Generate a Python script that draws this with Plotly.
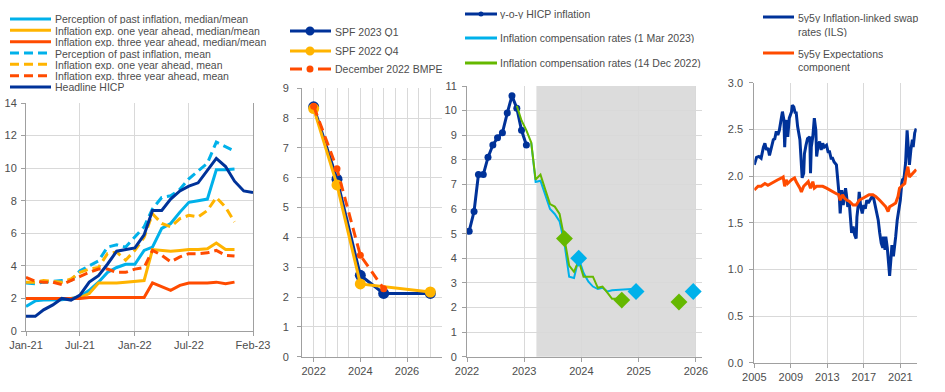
import plotly.graph_objects as go

# ---------------- DATA ----------------
# Panel 1: consumer expectations survey (monthly) and headline HICP
ces_months = ['2021-01', '2021-02', '2021-03', '2021-04', '2021-05', '2021-06',
              '2021-07', '2021-08', '2021-09', '2021-10', '2021-11', '2021-12',
              '2022-01', '2022-02', '2022-03', '2022-04', '2022-05', '2022-06',
              '2022-07', '2022-08', '2022-09', '2022-10', '2022-11', '2022-12']
hicp_months = ces_months + ['2023-01', '2023-02']
past_median = [1.5, 1.85, 1.9, 1.9, 1.92, 2.0, 2.1, 2.5, 3.0, 3.6, 3.9, 4.1,
               4.1, 4.95, 5.15, 6.3, 6.6, 7.3, 7.9, 8.0, 8.1, 9.9, 9.9, 9.95]
one_year_median = [2.0, 2.0, 2.0, 2.0, 2.0, 2.0, 2.05, 2.3, 2.95, 2.95, 2.95, 3.0,
                   3.05, 3.1, 5.0, 4.95, 4.9, 4.95, 5.0, 5.0, 5.05, 5.4, 5.0, 5.0]
three_year_median = [2.0, 2.0, 2.0, 2.0, 2.0, 2.0, 2.0, 2.05, 2.05, 2.05, 2.05, 2.05,
                     2.05, 2.05, 2.95, 2.7, 2.5, 2.8, 2.95, 2.95, 2.95, 3.0, 2.9, 3.0]
past_mean = [2.95, 2.9, 3.0, 3.05, 3.1, 3.1, 3.7, 4.0, 4.3, 5.15, 5.3, 5.15,
             5.75, 6.4, 7.5, 8.2, 8.3, 8.7, 9.35, 9.85, 10.3, 11.6, 11.3, 11.05]
one_year_mean = [3.0, 3.0, 3.1, 3.05, 3.0, 3.2, 3.6, 3.8, 3.9, 4.75, 4.85, 4.35,
                 4.95, 5.75, 7.2, 6.6, 6.4, 6.9, 7.1, 7.0, 7.4, 8.2, 7.6, 6.7]
three_year_mean = [3.3, 3.05, 3.0, 3.0, 2.85, 3.1, 3.3, 3.6, 3.8, 3.8, 3.6, 3.6,
                   3.8, 3.9, 4.95, 4.65, 4.25, 4.55, 4.75, 4.75, 4.8, 4.95, 4.65, 4.6]
hicp = [0.9, 0.9, 1.3, 1.6, 2.0, 1.9, 2.2, 3.0, 3.4, 4.1, 4.9, 5.0,
        5.1, 5.9, 7.4, 7.4, 8.1, 8.6, 8.9, 9.1, 9.9, 10.6, 10.1, 9.2, 8.6, 8.5]
p1_ticks = ['2021-01-01', '2021-07-01', '2022-01-01', '2022-07-01', '2023-02-01']
p1_ticktext = ['Jan-21', 'Jul-21', 'Jan-22', 'Jul-22', 'Feb-23']

# Panel 2: SPF and BMPE (annual)
spf23_years = [2022, 2023, 2024, 2025, 2027]
spf23_values = [8.38, 5.95, 2.73, 2.12, 2.12]
spf22_years = [2022, 2023, 2024, 2027]
spf22_values = [8.32, 5.76, 2.44, 2.17]
bmpe_years = [2022, 2023, 2024, 2025]
bmpe_values = [8.4, 6.3, 3.4, 2.28]

# Panel 3: HICP and inflation compensation (monthly)
hicp3_months = ['2022-01', '2022-02', '2022-03', '2022-04', '2022-05', '2022-06', '2022-07',
                '2022-08', '2022-09', '2022-10', '2022-11', '2022-12', '2023-01']
hicp3_values = hicp[12:25]
dec_months = ['2022-11', '2022-12', '2023-01', '2023-02', '2023-03', '2023-04', '2023-05',
              '2023-06', '2023-07', '2023-08', '2023-09', '2023-10', '2023-11', '2023-12',
              '2024-01', '2024-02', '2024-03', '2024-04', '2024-05', '2024-06', '2024-07',
              '2024-08', '2024-09']
dec_values = [10.2, 9.6, 9.2, 8.7, 7.2, 7.4, 6.8, 6.2, 6.1, 5.8, 4.8, 3.7,
              3.45, 3.9, 3.25, 3.25, 3.25, 2.8, 2.85, 2.6, 2.35, 2.35, 2.3]
mar_months = ['2023-02', '2023-03', '2023-04', '2023-05', '2023-06', '2023-07', '2023-08',
              '2023-09', '2023-10', '2023-11', '2023-12', '2024-01', '2024-02', '2024-03',
              '2024-04', '2024-05', '2024-06', '2024-07', '2024-08', '2024-09', '2024-10',
              '2024-11', '2024-12', '2025-01']
mar_values = [8.7, 7.1, 7.15, 6.6, 6.0, 5.8, 5.5, 4.6, 3.25, 3.2, 4.0, 3.4,
              3.05, 2.85, 2.75, 2.8, 2.65, 2.7, 2.72, 2.72, 2.75, 2.75, 2.65, 2.6]
dec_fix_months = ['2023-09', '2024-09', '2025-09']
dec_fix_values = [4.8, 2.3, 2.22]
mar_fix_months = ['2023-12', '2024-12', '2025-12']
mar_fix_values = [4.0, 2.65, 2.65]
shade_start, shade_end = '2023-03-20', '2025-12-28'

# Panel 4: 5y5y ILS and expectations component
ils_months = ['2005-01', '2005-04', '2005-07', '2005-10',
              '2006-01', '2006-03', '2006-05', '2006-07', '2006-09', '2006-11',
              '2007-02', '2007-04', '2007-06', '2007-08', '2007-10',
              '2008-01', '2008-02', '2008-04', '2008-05', '2008-06', '2008-08', '2008-09', '2008-11',
              '2009-02', '2009-03', '2009-05', '2009-07', '2009-08', '2009-10',
              '2010-01', '2010-03', '2010-04', '2010-06', '2010-07', '2010-09', '2010-11',
              '2011-02', '2011-03', '2011-04', '2011-06', '2011-08', '2011-10', '2011-11',
              '2012-01', '2012-03', '2012-05', '2012-07', '2012-09', '2012-12',
              '2013-02', '2013-04', '2013-06', '2013-08', '2013-10',
              '2014-01', '2014-03', '2014-05', '2014-06', '2014-08', '2014-10',
              '2015-01', '2015-02', '2015-04', '2015-06', '2015-08', '2015-09', '2015-11',
              '2016-01', '2016-03', '2016-04', '2016-06', '2016-07', '2016-09', '2016-11',
              '2017-01', '2017-03', '2017-05', '2017-07', '2017-09', '2017-12',
              '2018-02', '2018-04', '2018-06', '2018-08', '2018-10', '2018-12',
              '2019-02', '2019-03', '2019-05', '2019-06', '2019-08', '2019-10', '2019-11',
              '2020-01', '2020-02', '2020-04', '2020-06', '2020-07', '2020-09', '2020-11',
              '2021-01', '2021-03', '2021-04', '2021-06', '2021-08', '2021-10', '2021-12',
              '2022-01', '2022-03', '2022-05', '2022-06', '2022-08', '2022-10']
ils_values = [2.12, 2.20, 2.21, 2.19,
              2.31, 2.35, 2.28, 2.30, 2.22, 2.28,
              2.39, 2.40, 2.48, 2.44, 2.49,
              2.64, 2.69, 2.60, 2.31, 2.49, 2.60, 2.42, 2.62,
              2.69, 2.76, 2.74, 2.67, 2.69, 2.53,
              2.39, 2.14, 1.98, 2.03, 2.24, 2.33, 2.40,
              2.42, 2.03, 2.31, 2.42, 2.62, 2.49, 2.21,
              2.33, 2.37, 2.28, 2.35, 2.31, 2.33,
              2.26, 2.26, 2.19, 2.19, 2.15,
              2.12, 1.96, 1.76, 1.60, 1.85, 1.69,
              1.87, 1.81, 1.67, 1.71, 1.53, 1.39, 1.46,
              1.37, 1.33, 1.56, 1.71, 1.83, 1.67, 1.60,
              1.69, 1.65, 1.74, 1.71, 1.74, 1.78,
              1.76, 1.69, 1.62, 1.53, 1.39, 1.28,
              1.23, 1.35, 1.21, 1.35, 1.23, 1.03, 0.93,
              1.14, 1.26, 1.14, 1.26, 1.35, 1.53, 1.64,
              1.74, 1.92, 1.96, 1.98, 2.14, 2.49, 2.14,
              2.12, 2.28, 2.39, 2.31, 2.46, 2.51]
exp_months = ['2005-01', '2005-06', '2005-10', '2006-03', '2006-07', '2006-11', '2007-04',
              '2007-08', '2008-01', '2008-03', '2008-05', '2008-07', '2008-09', '2009-02',
              '2009-06', '2009-08', '2010-01', '2010-03', '2010-06', '2010-09', '2010-12',
              '2011-03', '2011-06', '2011-08', '2011-11', '2012-03', '2012-07', '2012-12',
              '2013-04', '2013-08', '2014-01', '2014-04', '2014-06', '2014-09', '2014-12',
              '2015-03', '2015-06', '2015-11', '2016-03', '2016-07', '2016-12', '2017-04',
              '2017-08', '2018-01', '2018-05', '2018-10', '2019-02', '2019-06', '2019-09',
              '2019-11', '2020-03', '2020-07', '2020-10', '2020-12', '2021-04', '2021-07',
              '2021-09', '2021-11', '2022-01', '2022-03', '2022-06', '2022-08', '2022-10']
exp_values = [1.85, 1.89, 1.89, 1.92, 1.90, 1.92, 1.94,
              1.96, 1.98, 1.99, 1.89, 1.96, 1.92, 1.96,
              1.98, 1.94, 1.87, 1.83, 1.89, 1.92, 1.94,
              1.87, 1.94, 1.87, 1.89, 1.89, 1.89, 1.87,
              1.85, 1.83, 1.81, 1.80, 1.74, 1.80, 1.76,
              1.74, 1.73, 1.69, 1.69, 1.74, 1.76, 1.78,
              1.80, 1.80, 1.78, 1.74, 1.71, 1.67, 1.62,
              1.67, 1.69, 1.71, 1.78, 1.87, 1.90, 1.92,
              2.03, 2.10, 1.99, 2.01, 2.03, 2.05, 2.07]
assert len(ils_months) == len(ils_values)
assert len(exp_months) == len(exp_values)
assert len(dec_months) == len(dec_values) and len(mar_months) == len(mar_values)

# ---------------- STYLE ----------------
W, H = 945, 392
DB, LB, YL, OR, GR = '#003299', '#00B1EA', '#FFB400', '#FF4B00', '#65B800'
GRID, AX, TXT = '#D9D9D9', '#A0A0A0', '#4D4D4D'
FONT = 'Arial, Liberation Sans, sans-serif'
TICKF = dict(family=FONT, size=11, color=TXT)
LEGF = dict(family=FONT, size=10.5, color=TXT)
DASH1 = '9px,5px'


def fx(p):
    return p / W


def fy(p):
    return 1 - p / H


def mid(months):
    return [m + '-15' for m in months]


def first(months):
    return [m + '-01' for m in months]


fig = go.Figure()

# ---- Panel 1 ----
p1 = [
    (past_median, LB, 'solid'), (one_year_median, YL, 'solid'), (three_year_median, OR, 'solid'),
    (past_mean, LB, DASH1), (one_year_mean, YL, DASH1), (three_year_mean, OR, DASH1),
]
for vals, col, dash in p1:
    fig.add_trace(go.Scatter(x=first(ces_months), y=vals, mode='lines',
                             line=dict(color=col, width=3, dash=dash),
                             xaxis='x', yaxis='y', showlegend=False))
fig.add_trace(go.Scatter(x=first(hicp_months), y=hicp, mode='lines',
                         line=dict(color=DB, width=3), xaxis='x', yaxis='y', showlegend=False))

# ---- Panel 2 ----
fig.add_trace(go.Scatter(x=spf23_years, y=spf23_values, mode='lines+markers',
                         line=dict(color=DB, width=3), marker=dict(size=11, color=DB),
                         xaxis='x2', yaxis='y2', showlegend=False))
fig.add_trace(go.Scatter(x=spf22_years, y=spf22_values, mode='lines+markers',
                         line=dict(color=YL, width=3), marker=dict(size=11, color=YL),
                         xaxis='x2', yaxis='y2', showlegend=False))
fig.add_trace(go.Scatter(x=bmpe_years, y=bmpe_values, mode='lines+markers',
                         line=dict(color=OR, width=3, dash='10px,6px'), marker=dict(size=7, color=OR),
                         xaxis='x2', yaxis='y2', showlegend=False))

# ---- Panel 3 ----
fig.add_shape(type='rect', xref='x3', yref='y3 domain', x0=shade_start, x1=shade_end,
              y0=0, y1=1, fillcolor='#DCDCDC', line_width=0, layer='below')
fig.add_trace(go.Scatter(x=mid(hicp3_months), y=hicp3_values, mode='lines+markers',
                         line=dict(color=DB, width=3), marker=dict(size=7, color=DB),
                         xaxis='x3', yaxis='y3', showlegend=False))
fig.add_trace(go.Scatter(x=mid(mar_months), y=mar_values, mode='lines',
                         line=dict(color=LB, width=2), xaxis='x3', yaxis='y3', showlegend=False))
fig.add_trace(go.Scatter(x=mid(dec_months), y=dec_values, mode='lines',
                         line=dict(color=GR, width=2), xaxis='x3', yaxis='y3', showlegend=False))
fig.add_trace(go.Scatter(x=mid(dec_fix_months), y=dec_fix_values, mode='markers',
                         marker=dict(symbol='diamond', size=13, color=GR),
                         xaxis='x3', yaxis='y3', showlegend=False))
fig.add_trace(go.Scatter(x=mid(mar_fix_months), y=mar_fix_values, mode='markers',
                         marker=dict(symbol='diamond', size=13, color=LB),
                         xaxis='x3', yaxis='y3', showlegend=False))

# ---- Panel 4 ----
fig.add_trace(go.Scatter(x=first(ils_months), y=ils_values, mode='lines',
                         line=dict(color=DB, width=3), xaxis='x4', yaxis='y5', showlegend=False))
fig.add_trace(go.Scatter(x=first(exp_months), y=exp_values, mode='lines',
                         line=dict(color=OR, width=3), xaxis='x4', yaxis='y5', showlegend=False))

# ---------------- AXES ----------------
base = dict(showline=True, linecolor=AX, linewidth=1, ticks='outside', ticklen=4,
            tickcolor=AX, tickfont=TICKF, gridcolor=GRID, gridwidth=1, zeroline=False,
            showgrid=True, fixedrange=True, automargin=False)

fig.update_layout(
    width=W, height=H, autosize=False,
    margin=dict(l=0, r=0, t=0, b=0, pad=0, autoexpand=False),
    paper_bgcolor='white', plot_bgcolor='white', showlegend=False,
    xaxis=dict(base, type='date', domain=[fx(26), fx(253)], anchor='y',
               range=['2021-01-01', '2023-02-01'], tickmode='array',
               tickvals=p1_ticks, ticktext=p1_ticktext),
    yaxis=dict(base, domain=[fy(331), fy(103)], anchor='x', range=[0, 14], dtick=2,
               ticklabelstandoff=2, mirror=True),
    xaxis2=dict(base, domain=[fx(302), fx(442)], anchor='y2', range=[2021.5, 2027.5],
                tickmode='array', tickvals=[2022, 2024, 2026],
                minor=dict(dtick=0.5, tick0=2021.5, showgrid=True, gridcolor=GRID, ticks='')),
    yaxis2=dict(base, domain=[fy(356.7), fy(88.3)], anchor='x2', range=[0, 9], dtick=1,
                ticklabelstandoff=6),
    xaxis3=dict(base, type='date', domain=[fx(467), fx(702)], anchor='y3',
                range=['2022-01-01', '2026-02-09'], dtick='M12', tick0='2022-01-01',
                tickformat='%Y'),
    yaxis3=dict(base, domain=[fy(356.7), fy(86)], anchor='x3', range=[0, 11], dtick=1,
                ticklabelstandoff=3),
    yaxis4=dict(base, overlaying='y3', side='right', anchor='x3', range=[0, 11], dtick=1,
                showgrid=False, ticklabelstandoff=1),
    xaxis4=dict(base, type='date', domain=[fx(754.3), fx(916.7)], anchor='y5',
                range=['2005-01-01', '2022-10-20'], dtick='M48', tick0='2005-01-01',
                tickformat='%Y'),
    yaxis5=dict(base, domain=[fy(362.7), fy(82.7)], anchor='x4', range=[0, 3], dtick=0.5,
                tickformat='.1f', ticklabelstandoff=4),
    yaxis6=dict(base, overlaying='y5', side='right', anchor='x4', range=[0, 3], dtick=0.5,
                tickformat='.1f', showgrid=False, ticklabelstandoff=4),
)


# ---------------- LEGENDS (drawn manually) ----------------
def leg_line(x0, x1, y, color, dash='solid', width=3):
    fig.add_shape(type='line', xref='paper', yref='paper', x0=fx(x0), x1=fx(x1),
                  y0=fy(y), y1=fy(y), line=dict(color=color, width=width, dash=dash))


def leg_dot(cx, cy, r, color):
    fig.add_shape(type='circle', xref='paper', yref='paper', x0=fx(cx - r), x1=fx(cx + r),
                  y0=fy(cy + r), y1=fy(cy - r), fillcolor=color, line=dict(color=color, width=0))


def leg_text(x, y, text):
    fig.add_annotation(xref='paper', yref='paper', x=fx(x), y=fy(y), text=text,
                       showarrow=False, xanchor='left', yanchor='middle', font=LEGF,
                       borderpad=0, height=11)


p1_leg = [
    ('Perception of past inflation, median/mean', LB, 'solid'),
    ('Inflation exp. one year ahead, median/mean', YL, 'solid'),
    ('Inflation exp. three year ahead, median/mean', OR, 'solid'),
    ('Perception of past inflation, mean', LB, DASH1),
    ('Inflation exp. one year ahead, mean', YL, DASH1),
    ('Inflation exp. three year ahead, mean', OR, DASH1),
    ('Headline HICP', DB, 'solid'),
]
p1_leg_y = [19, 30.3, 41.7, 53, 64.3, 75.7, 87]
for (t, c, d), yy in zip(p1_leg, p1_leg_y):
    leg_line(10, 51, yy, c, d)
    leg_text(54, yy, t)

leg_line(290, 331, 31, DB)
leg_dot(310, 31, 4.5, DB)
leg_text(334, 31, 'SPF 2023 Q1')
leg_line(290, 331, 51, YL)
leg_dot(310, 51, 4.5, YL)
leg_text(334, 51, 'SPF 2022 Q4')
leg_line(290, 302, 69, OR)
leg_line(318, 331, 69, OR)
leg_dot(310, 69, 3.5, OR)
leg_text(334, 69, 'December 2022 BMPE')

leg_line(465, 497, 14, DB)
leg_dot(481, 14, 2.5, DB)
leg_text(499, 14, 'y-o-y HICP inflation')
leg_line(465, 497, 38, LB)
leg_text(499, 38, 'Inflation compensation rates (1 Mar 2023)')
leg_line(465, 497, 63, GR)
leg_text(499, 63, 'Inflation compensation rates (14 Dec 2022)')

leg_line(763, 794, 17, DB)
leg_text(797, 17, '5y5y Inflation-linked swap')
leg_text(797, 31.5, 'rates (ILS)')
leg_line(763, 794, 53, OR)
leg_text(797, 53, '5y5y Expectations')
leg_text(797, 66, 'component')

fig.write_html('out.html', config={'displayModeBar': False},
               post_script="document.body.style.margin='0';document.body.style.overflow='hidden';")
